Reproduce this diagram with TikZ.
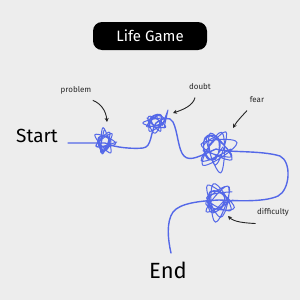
\documentclass[tikz,border=0pt]{standalone}
\usepackage{fontspec}
\setmainfont{Fira Sans}
\usetikzlibrary{arrows.meta}
\definecolor{bg}{HTML}{EDEDED}
\definecolor{pen}{HTML}{5468E8}
\tikzset{
  road/.style={draw=pen, line width=1.4pt, line cap=round, line join=round},
  scrib/.style={draw=pen, line width=1pt, line cap=round, line join=round},
  note/.style={font=\fontsize{8}{9}\selectfont, text=black!85},
  pointer/.style={draw=black!85, line width=0.9pt, -{Stealth[length=4pt,width=4pt]}},
}
\newcommand{\myscribble}[7]{%
  \pgfmathsetseed{#5}%
  \draw[scrib] plot[smooth, tension=1, variable=\t, samples at={0,...,#6}]
    ({#1+#3*(0.6+0.4*rnd)*cos(\t*#7)}, {#2+#4*(0.6+0.4*rnd)*sin(\t*#7)});
}
\begin{document}
\begin{tikzpicture}[x=1pt,y=-1pt]
\path[fill=bg] (0,0) rectangle (300,300);
\useasboundingbox (0,0) rectangle (300,300);

% title
\node[fill=black, rounded corners=9pt, minimum width=114pt, minimum height=28pt,
      text=white, font=\fontsize{15}{17}\selectfont] (title) at (150,36) {Life Game};

% waypoints
\coordinate (s0) at (68,143);
\coordinate (p1) at (105,143);
\coordinate (d1) at (156,123);
\coordinate (f1) at (216,149);
\coordinate (k1) at (219,200);
\coordinate (e0) at (171,253);

\node[font=\fontsize{19}{21}\selectfont] (start) at (37,136) {Start};
\node[font=\fontsize{22}{24}\selectfont] (end) at (168,270) {End};

% road
\draw[road] (s0) -- (p1) .. controls (115,148) and (135,149) .. (143,148)
  .. controls (152,147) and (150,133) .. (d1)
  .. controls (162,118) and (170,116) .. (173,122)
  .. controls (178,132) and (178,150) .. (184,156)
  .. controls (190,162) and (200,156) .. (f1)
  .. controls (228,153) and (260,150) .. (280,156)
  .. controls (292,162) and (290,190) .. (278,196)
  .. controls (265,202) and (240,201) .. (k1)
  .. controls (200,201) and (180,203) .. (173,212)
  .. controls (166,222) and (168,240) .. (e0);

% scribbles
\myscribble{105}{142}{12}{15}{3}{11}{155}
\myscribble{104}{143}{8}{11}{11}{8}{115}
\myscribble{155}{123}{14}{11}{5}{11}{150}
\myscribble{157}{121}{9}{8}{17}{7}{110}
\draw[scrib] (162,126) -- (168,110) -- (164,128);
\myscribble{217}{149}{21}{25}{7}{13}{152}
\myscribble{212}{147}{11}{15}{23}{9}{112}
\myscribble{219}{200}{20}{23}{9}{12}{148}
\myscribble{216}{200}{12}{14}{29}{8}{118}

% labels
\node[note] (lp) at (76,90) {problem};
\node[note] (ld) at (200,87) {doubt};
\node[note] (lf) at (257,100) {fear};
\node[note] (lk) at (273,212) {difficulty};

\coordinate (tp) at (107,122);
\coordinate (td) at (173,113);
\coordinate (tf) at (233,128);
\coordinate (tk) at (228,216);
\draw[pointer] (lp.south east) ++(-2,3) .. controls (100,103) and (106,110) .. (tp);
\draw[pointer] (ld.south) ++(-5,4) .. controls (193,106) and (182,110) .. (td);
\draw[pointer] (lf.south) ++(-10,4) .. controls (243,115) and (237,121) .. (tf);
\draw[pointer] (lk.south west) ++(2,4) .. controls (245,223) and (234,222) .. (tk);
\end{tikzpicture}
\end{document}
